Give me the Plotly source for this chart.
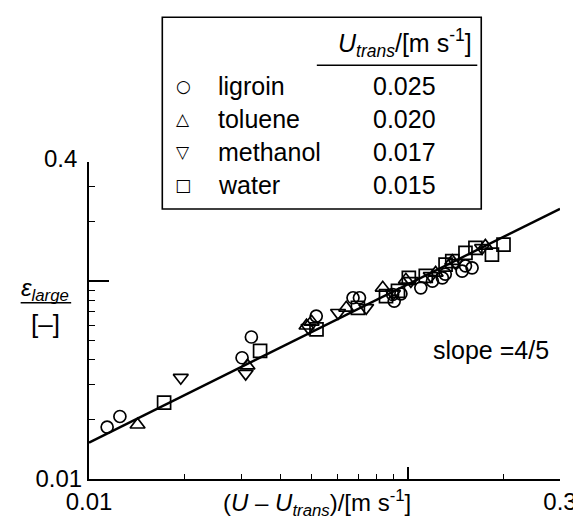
import plotly.graph_objects as go
import numpy as np

# ---------------- data ----------------
ligroin_x = [0.0114, 0.0125, 0.0302, 0.0323, 0.0516, 0.0673, 0.0705, 0.0896, 0.0906, 0.0951,
             0.1098, 0.1194, 0.1283, 0.1310, 0.148, 0.1516, 0.159]
ligroin_y = [0.0183, 0.0207, 0.0410, 0.0522, 0.0666, 0.0824, 0.0824, 0.0856, 0.0793, 0.0863,
             0.0925, 0.1000, 0.1039, 0.1085, 0.1123, 0.1195, 0.1167]

toluene_x = [0.0142, 0.0314, 0.0481, 0.0499, 0.0641, 0.0834, 0.0986, 0.1222, 0.1378, 0.175]
toluene_y = [0.0188, 0.0374, 0.0595, 0.0623, 0.0733, 0.0925, 0.1015, 0.1101, 0.1262, 0.1507]

methanol_x = [0.0194, 0.0310, 0.0488, 0.0604, 0.0740, 0.0898, 0.1022, 0.1180, 0.1411, 0.1709]
methanol_y = [0.0325, 0.0341, 0.0581, 0.0692, 0.0733, 0.0863, 0.1003, 0.1063, 0.1237, 0.1472]

water_x = [0.0172, 0.0344, 0.0517, 0.0697, 0.0854, 0.0931, 0.1007, 0.1138, 0.1313, 0.1378,
           0.1516, 0.1629, 0.1835, 0.1995]
water_y = [0.0243, 0.0444, 0.0570, 0.0733, 0.0840, 0.0893, 0.1039, 0.1063, 0.1213, 0.1262,
           0.1390, 0.1472, 0.1362, 0.1530]

series_names = ["ligroin", "toluene", "methanol", "water"]
u_trans = ["0.025", "0.020", "0.017", "0.015"]
symbols = ["circle-open", "triangle-up-open", "triangle-down-open", "square-open"]
legend_glyphs = ["○", "△", "▽", "□"]

fit_slope = 0.8
fit_prefactor = 0.608
fit_x = [0.01, 0.3]

x_range = [0.01, 0.3]
y_range = [0.01, 0.4]
x_major = [0.01, 0.1, 0.3]
x_major_text = ["0.01", " ", "0.3"]
x_minor = [0.02, 0.03, 0.04, 0.05, 0.06, 0.07, 0.08, 0.09, 0.2]
y_major = [0.01, 0.1]
y_major_text = ["0.01", " "]
y_minor = [0.02, 0.03, 0.04, 0.05, 0.06, 0.07, 0.08, 0.09, 0.2, 0.3, 0.4]
y_top_label = "0.4"

# ---------------- layout helpers ----------------
W, H = 581, 519
L, R, T, B = 81, 556.5, 154, 471.5
FONT = "Liberation Sans, Arial, sans-serif"


def px(x):
    return (x - L) / (R - L)


def py(y):
    return (B - y) / (B - T)


fig = go.Figure()

xs = [ligroin_x, toluene_x, methanol_x, water_x]
ys = [ligroin_y, toluene_y, methanol_y, water_y]
sizes = [12, 13, 13, 13]
for name, sx, sy, sym, sz in zip(series_names, xs, ys, symbols, sizes):
    fig.add_trace(go.Scatter(
        x=sx, y=sy, mode="markers", name=name,
        marker=dict(symbol=sym, size=sz, color="black", line=dict(color="black", width=1.7)),
        showlegend=False))

fit_y = [fit_prefactor * v ** fit_slope for v in fit_x]
fig.add_trace(go.Scatter(x=fit_x, y=fit_y, mode="lines",
                         line=dict(color="black", width=2.4), showlegend=False))

annotations = []
shapes = []

# y-axis top label
annotations.append(dict(x=0, y=np.log10(y_range[1]), xref="paper", yref="y",
                        text=y_top_label, showarrow=False, xanchor="right", yanchor="middle",
                        xshift=-10, yshift=4, font=dict(size=24, family=FONT, color="black")))

# y-axis title as fraction
annotations.append(dict(x=px(37), y=py(282), xref="paper", yref="paper",
                        text="<i>ε<sub>large</sub></i>", showarrow=False,
                        xanchor="center", yanchor="middle",
                        font=dict(size=24, family=FONT, color="black")))
shapes.append(dict(type="line", xref="paper", yref="paper",
                   x0=px(12), x1=px(63), y0=py(295), y1=py(295),
                   line=dict(color="black", width=1.5)))
annotations.append(dict(x=px(37), y=py(316), xref="paper", yref="paper",
                        text="[–]", showarrow=False, xanchor="center", yanchor="middle",
                        font=dict(size=26, family=FONT, color="black")))

# x-axis title
annotations.append(dict(x=px(311), y=py(515), xref="paper", yref="paper",
                        text="(<i>U</i> – <i>U</i><sub><i>trans</i></sub>)/[m s<sup>-1</sup>]",
                        showarrow=False, xanchor="center", yanchor="bottom",
                        font=dict(size=24, family=FONT, color="black")))

# slope text
annotations.append(dict(x=px(487), y=py(342), xref="paper", yref="paper",
                        text="slope =4/5", showarrow=False, xanchor="center", yanchor="middle",
                        font=dict(size=25, family=FONT, color="black")))

# legend box
shapes.append(dict(type="rect", xref="paper", yref="paper",
                   x0=px(155), x1=px(477), y0=py(201), y1=py(9),
                   line=dict(color="black", width=1.6), fillcolor="white", layer="below"))
annotations.append(dict(x=px(400), y=py(35), xref="paper", yref="paper",
                        text="<i>U</i><sub><i>trans</i></sub>/[m s<sup>-1</sup>]",
                        showarrow=False, xanchor="center", yanchor="middle",
                        font=dict(size=25, family=FONT, color="black")))
shapes.append(dict(type="line", xref="paper", yref="paper",
                   x0=px(311), x1=px(473), y0=py(57), y1=py(57),
                   line=dict(color="black", width=1.5)))
row_y = [78, 111, 144, 177]
for g, nm, val, ry in zip(legend_glyphs, series_names, u_trans, row_y):
    annotations.append(dict(x=px(176), y=py(ry), xref="paper", yref="paper", text=g,
                            showarrow=False, xanchor="center", yanchor="middle",
                            font=dict(size=17, family="DejaVu Sans", color="black")))
    annotations.append(dict(x=px(209), y=py(ry), xref="paper", yref="paper", text=nm,
                            showarrow=False, xanchor="left", yanchor="middle",
                            font=dict(size=25, family=FONT, color="black")))
    annotations.append(dict(x=px(400), y=py(ry), xref="paper", yref="paper", text=val,
                            showarrow=False, xanchor="center", yanchor="middle",
                            font=dict(size=25, family=FONT, color="black")))

fig.update_layout(
    width=W, height=H,
    margin=dict(l=L, r=W - R, t=T, b=H - B, pad=0),
    paper_bgcolor="white", plot_bgcolor="white",
    font=dict(family=FONT, color="black", size=24),
    annotations=annotations, shapes=shapes,
    xaxis=dict(type="log", range=[np.log10(x_range[0]), np.log10(x_range[1])],
               tickvals=x_major, ticktext=x_major_text, ticks="inside", ticklen=12,
               tickwidth=1.5, tickcolor="black",
               minor=dict(tickvals=x_minor, ticks="inside", ticklen=5, tickwidth=1.2, tickcolor="black"),
               showline=True, linecolor="black", linewidth=2, showgrid=False, zeroline=False,
               tickfont=dict(size=24, family=FONT, color="black")),
    yaxis=dict(type="log", range=[np.log10(y_range[0]), np.log10(y_range[1])],
               tickvals=y_major, ticktext=y_major_text, ticks="inside", ticklen=20,
               tickwidth=1.5, tickcolor="black",
               minor=dict(tickvals=y_minor, ticks="inside", ticklen=6, tickwidth=1.2, tickcolor="black"),
               showline=True, linecolor="black", linewidth=2, showgrid=False, zeroline=False,
               tickfont=dict(size=24, family=FONT, color="black")),
)

fig.write_html("out.html")
